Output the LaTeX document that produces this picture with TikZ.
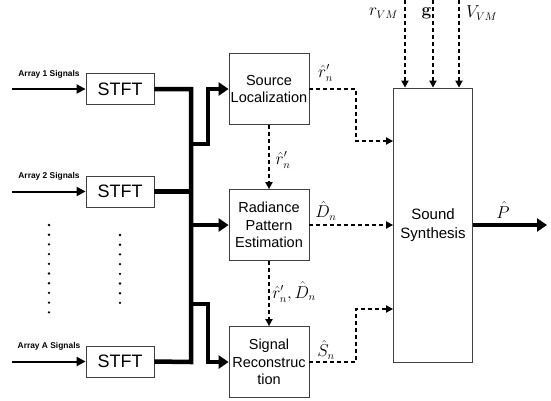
\documentclass[tikz,border=0pt]{standalone}
\usepackage[no-math]{fontspec}
\setmainfont{Liberation Sans}
\usetikzlibrary{arrows.meta}
\begin{document}
\begin{tikzpicture}[x=1pt,y=-1pt,
  box/.style={draw=black!75, line width=0.8pt, fill=white, inner sep=0pt, align=center},
  stftbox/.style={box, minimum width=68pt, minimum height=31pt, font=\fontsize{18}{20}\selectfont},
  procbox/.style={box, minimum width=80pt, minimum height=71pt, font=\fontsize{14.5}{17.5}\selectfont},
  synthbox/.style={box, minimum width=79pt, minimum height=274pt, font=\fontsize{15}{19}\selectfont},
  inarrow/.style={line width=2pt, -{Triangle[length=9pt,width=9pt]}},
  bus/.style={line width=4.5pt},
  busarrow/.style={line width=4.5pt, -{Triangle[length=10pt,width=13pt]}},
  dasharrow/.style={line width=1.8pt, dash pattern=on 4pt off 3pt, -{Triangle[length=7pt,width=7pt]}},
  arraylabel/.style={font=\bfseries\fontsize{8.4}{10}\selectfont, inner sep=0pt},
  mathlabel/.style={font=\fontsize{16}{18}\selectfont, inner sep=0pt},
  dotmark/.style={circle, fill=black, inner sep=0pt, minimum size=2.6pt}
]
\useasboundingbox (0,0) rectangle (551,400);

% STFT boxes
\node[stftbox] (s1) at (120,89) {STFT};
\node[stftbox] (s2) at (120,191.5) {STFT};
\node[stftbox] (sA) at (120,361.5) {STFT};

% inputs
\coordinate (i1) at (12,89);
\coordinate (i2) at (12,191.5);
\coordinate (iA) at (12,361.5);
\draw[inarrow] (i1) -- (s1.west);
\draw[inarrow] (i2) -- (s2.west);
\draw[inarrow] (iA) -- (sA.west);
\node[arraylabel] (l1) at (49,74) {Array 1 Signals};
\node[arraylabel] (l2) at (49,176.5) {Array 2 Signals};
\node[arraylabel] (lA) at (49,346.5) {Array A Signals};

% dots
\foreach \k in {0,...,9} { \node[dotmark] (da\k) at (49,225+9.7*\k) {}; }
\foreach \k in {0,...,7} { \node[dotmark] (db\k) at (120,235+9.7*\k) {}; }

% processing boxes
\node[procbox] (sl) at (269,89) {Source\\Localization};
\node[procbox] (rp) at (269,225) {Radiance\\Pattern\\Estimation};
\node[procbox] (sr) at (269,362) {Signal\\Reconstruc\\tion};
\node[synthbox] (ss) at (433,225) {Sound\\Synthesis};

% bus
\coordinate (bt) at (191,89);
\coordinate (bb) at (191,362);
\coordinate (b1) at (191,144);
\coordinate (b2) at (191,225);
\coordinate (b3) at (191,304);
\coordinate (k1) at (208,144);
\coordinate (k3) at (208,304);
\draw[bus, line join=miter] (s1.east) -- (bt) -- (bb) -- (sA.east);
\draw[bus] (s2.east) -- (191,191.5);
\draw[busarrow, line join=miter] (b1) -- (k1) |- (sl.west);
\draw[busarrow] (b2) -- (rp.west);
\draw[busarrow, line join=miter] (b3) -- (k3) |- (sr.west);

% dashed connections
\draw[dasharrow] (sl.east) -- (356,89) |- (ss.west |- 0,141);
\draw[dasharrow] (rp.east) -- (ss.west |- rp.east);
\draw[dasharrow] (sr.east) -- (356,362) |- (ss.west |- 0,309);
\draw[dasharrow] (sl.south) -- (rp.north);
\draw[dasharrow] (rp.south) -- (sr.north);

% top inputs
\coordinate (t1) at (405,0);
\coordinate (t2) at (433,0);
\coordinate (t3) at (459,0);
\draw[dasharrow] (t1) -- (t1 |- ss.north);
\draw[dasharrow] (t2) -- (t2 |- ss.north);
\draw[dasharrow] (t3) -- (t3 |- ss.north);

% output
\coordinate (out) at (547,225);
\draw[busarrow] (ss.east) -- (out);

% labels
\node[mathlabel] (m1) at (325.5,73) {$\hat{r}'_n$};
\node[mathlabel] (m2) at (283,160) {$\hat{r}'_n$};
\node[mathlabel] (m3) at (326,211) {$\hat{D}_n$};
\node[mathlabel] (m4) at (294,292) {$\hat{r}'_n, \hat{D}_n$};
\node[mathlabel] (m5) at (326,350) {$\hat{S}_n$};
\node[mathlabel] (m6) at (503,210) {$\hat{P}$};
\node[mathlabel] (m7) at (383.5,13) {$r_{VM}$};
\node[mathlabel] (m8) at (426.5,13) {$\mathbf{g}$};
\node[mathlabel] (m9) at (481.7,13) {$V_{VM}$};
\end{tikzpicture}
\end{document}
